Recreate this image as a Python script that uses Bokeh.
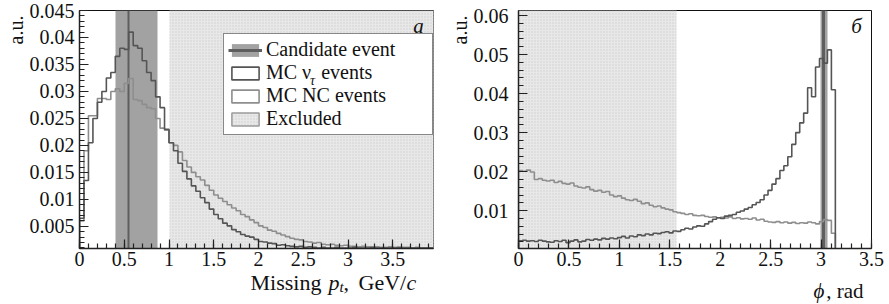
import numpy as np
from bokeh.plotting import figure
from bokeh.models import Range1d, FixedTicker, Legend, LegendItem, Label, Title
from bokeh.core.properties import value
from bokeh.layouts import row, column
from bokeh.embed import file_html
from bokeh.resources import INLINE

# ---------------- data: left panel (missing pt) ----------------
pt_bin_width = 0.05
pt_nutau = [0.0065, 0.0135, 0.0205, 0.0250, 0.0280, 0.0300, 0.0325, 0.0335, 0.0365, 0.0380,
            0.0378, 0.0410, 0.0385, 0.0380, 0.0357, 0.0335, 0.0320, 0.0290, 0.0270, 0.0230,
            0.0205, 0.0190, 0.0167, 0.0152, 0.0138, 0.0125, 0.0115, 0.0103, 0.0094, 0.0082,
            0.0072, 0.0064, 0.0056, 0.0051, 0.0044, 0.0040, 0.0035, 0.0032, 0.0030, 0.0026,
            0.0022, 0.0021, 0.0019, 0.0018, 0.0015, 0.0016, 0.0014, 0.0013, 0.0012, 0.0013,
            0.0011, 0.0012, 0.0011, 0.0010, 0.0011, 0.0010, 0.0010, 0.0011, 0.0010, 0.0010,
            0.0010, 0.0011, 0.0010, 0.0010, 0.0010, 0.0011, 0.0010, 0.0010, 0.0010, 0.0010,
            0.0010, 0.0011, 0.0010, 0.0010, 0.0010, 0.0010, 0.0010, 0.0010, 0.0010]
pt_nc = [0.0060, 0.0190, 0.0255, 0.0255, 0.0287, 0.0287, 0.0285, 0.0300, 0.0305, 0.0300,
         0.0315, 0.0324, 0.0285, 0.0283, 0.0276, 0.0270, 0.0268, 0.0250, 0.0232, 0.0228,
         0.0205, 0.0200, 0.0188, 0.0172, 0.0160, 0.0150, 0.0142, 0.0136, 0.0126, 0.0117,
         0.0108, 0.0102, 0.0096, 0.0090, 0.0084, 0.0079, 0.0072, 0.0068, 0.0062, 0.0057,
         0.0051, 0.0048, 0.0043, 0.0041, 0.0037, 0.0034, 0.0031, 0.0028, 0.0026, 0.0025,
         0.0022, 0.0021, 0.0019, 0.0020, 0.0017, 0.0016, 0.0017, 0.0015, 0.0014, 0.0015,
         0.0013, 0.0013, 0.0012, 0.0013, 0.0012, 0.0011, 0.0012, 0.0011, 0.0011, 0.0012,
         0.0011, 0.0010, 0.0011, 0.0011, 0.0010, 0.0011, 0.0010, 0.0010, 0.0010]
pt_candidate = 0.55
pt_candidate_band = [0.40, 0.87]
pt_excluded = [1.0, 4.0]

pt_xticks = [0, 0.5, 1, 1.5, 2, 2.5, 3, 3.5]
pt_xlabels = ["0", "0.5", "1", "1.5", "2", "2.5", "3", "3.5"]
pt_yticks = [0.005, 0.01, 0.015, 0.02, 0.025, 0.03, 0.035, 0.04, 0.045]
pt_ylabels = ["0.005", "0.01", "0.015", "0.02", "0.025", "0.03", "0.035", "0.04", "0.045"]

# ---------------- data: right panel (phi) ----------------
phi_max = np.pi
phi_nutau = [0.0023, 0.0024, 0.0022, 0.0023, 0.0021, 0.0024, 0.0022, 0.0020,
             0.0019, 0.0023, 0.0021, 0.0024, 0.0018, 0.0022, 0.0025, 0.0020,
             0.0022, 0.0026, 0.0024, 0.0027, 0.0025, 0.0029, 0.0027,
             0.0030, 0.0028, 0.0031, 0.0034, 0.0030, 0.0035, 0.0033, 0.0038,
             0.0036, 0.0040, 0.0038, 0.0042, 0.0041, 0.0044, 0.0046, 0.0043,
             0.0048, 0.0047, 0.0051, 0.0055, 0.0053, 0.0058, 0.0061,
             0.0060, 0.0066, 0.0072, 0.0078, 0.0082, 0.0080, 0.0086, 0.0088,
             0.0090, 0.0096, 0.0099, 0.0104, 0.0108, 0.0115, 0.0121, 0.0128,
             0.0140, 0.0152, 0.0168, 0.0182, 0.0203, 0.0215, 0.0238,
             0.0270, 0.0300, 0.0325, 0.0350, 0.0415, 0.0392, 0.0468, 0.0490, 0.0478, 0.0512, 0.0410]
phi_nc = [0.0203, 0.0201, 0.0204, 0.0199,
          0.0180, 0.0182, 0.0178, 0.0176,
          0.0178, 0.0172, 0.0175, 0.0170, 0.0168, 0.0171, 0.0163, 0.0160,
          0.0158, 0.0161, 0.0154, 0.0150, 0.0152, 0.0147, 0.0149,
          0.0140, 0.0136, 0.0138, 0.0132, 0.0128, 0.0126, 0.0129, 0.0124,
          0.0118, 0.0120, 0.0114, 0.0110, 0.0112, 0.0107, 0.0104, 0.0102,
          0.0097, 0.0095, 0.0093, 0.0090, 0.0092, 0.0088, 0.0087,
          0.0088, 0.0085, 0.0083, 0.0084, 0.0082, 0.0083, 0.0081, 0.0084,
          0.0080, 0.0082, 0.0079, 0.0080, 0.0078, 0.0081, 0.0076, 0.0078,
          0.0073, 0.0071, 0.0070, 0.0072, 0.0069, 0.0071, 0.0068,
          0.0070, 0.0067, 0.0069, 0.0068, 0.0071, 0.0069, 0.0066, 0.0072, 0.0077, 0.0075, 0.0042]
phi_candidate = 3.02
phi_candidate_band = [2.99, 3.06]
phi_excluded = [0.0, np.pi / 2]

phi_xticks = [0, 0.5, 1, 1.5, 2, 2.5, 3, 3.5]
phi_xlabels = ["0", "0.5", "1", "1.5", "2", "2.5", "3", "3.5"]
phi_yticks = [0.01, 0.02, 0.03, 0.04, 0.05, 0.06]
phi_ylabels = ["0.01", "0.02", "0.03", "0.04", "0.05", "0.06"]

# ---------------- styles ----------------
SERIF = "Liberation Serif"
C_NUTAU = "#555555"
C_NC = "#8e8e8e"
C_BAND = "#a2a2a2"
C_CAND = "#5e5e5e"
C_EXCL = "#e8e8e8"
C_HATCH = "#d0d0d0"
C_TEXT = "#111111"
NAN = np.array([np.nan])


def step_xy(edges, vals):
    xs = [edges[0]]
    ys = [0.0]
    for i, v in enumerate(vals):
        xs += [edges[i], edges[i + 1]]
        ys += [v, v]
    xs.append(edges[-1])
    ys.append(0.0)
    return xs, ys


def style_axes(p, xt, xl, xminor, yt, yl, yminor, ystand):
    p.xaxis.ticker = FixedTicker(ticks=xt, minor_ticks=xminor)
    p.yaxis.ticker = FixedTicker(ticks=yt, minor_ticks=yminor)
    p.xaxis.major_label_overrides = dict(zip(xt, xl))
    p.yaxis.major_label_overrides = dict(zip(yt, yl))
    for ax in (p.xaxis[0], p.yaxis[0]):
        ax.major_tick_in = 9
        ax.major_tick_out = 0
        ax.minor_tick_in = 5
        ax.minor_tick_out = 0
        ax.major_tick_line_color = "#222222"
        ax.minor_tick_line_color = "#222222"
        ax.major_tick_line_width = 1.2
        ax.minor_tick_line_width = 1.2
        ax.axis_line_color = "#222222"
        ax.axis_line_width = 1.5
        ax.major_label_text_font = SERIF
        ax.major_label_text_font_size = "20px"
        ax.major_label_text_color = C_TEXT
    p.xaxis.major_label_standoff = 3
    p.yaxis.major_label_standoff = ystand
    p.grid.visible = False
    p.outline_line_color = "#111111"
    p.outline_line_width = 1
    p.add_layout(Title(text="a.u.", align="right", text_font=SERIF, text_font_size="20px",
                       text_font_style="normal", text_color=C_TEXT, standoff=0, offset=5), "left")


def text_strip(width, pieces):
    q = figure(width=width, height=34, output_backend="svg", toolbar_location=None,
               x_range=Range1d(0, width), y_range=Range1d(0, 34),
               x_axis_type=None, y_axis_type=None, min_border=0)
    q.outline_line_color = None
    q.grid.visible = False
    for (x, y, txt, size, style, align) in pieces:
        q.text(x=[x], y=[y], text=[txt], text_font=value(SERIF), text_font_size=value(size),
               text_font_style=style, text_align=align, text_baseline="alphabetic",
               text_color=C_TEXT)
    return q


# ================= left panel =================
p1 = figure(width=446, height=270, output_backend="svg", toolbar_location=None,
            x_range=Range1d(0, 3.955), y_range=Range1d(0.0009, 0.045),
            min_border_left=79, min_border_right=13, min_border_top=10, min_border_bottom=22)

p1.vstrip(x0=[pt_excluded[0]], x1=[pt_excluded[1]], fill_color=C_EXCL, line_color=None,
          hatch_pattern="dot", hatch_color=C_HATCH, hatch_scale=3, hatch_weight=1)
p1.vstrip(x0=[pt_candidate_band[0]], x1=[pt_candidate_band[1]], fill_color=C_BAND, line_color=None)
p1.vspan(x=[pt_candidate], line_color=C_CAND, line_width=2)

pt_edges = [round(i * pt_bin_width, 4) for i in range(len(pt_nutau) + 1)]
xs, ys = step_xy(pt_edges, pt_nc)
h_nc = p1.patch(xs, ys, fill_alpha=0, line_color=C_NC, line_width=1.6)
xs, ys = step_xy(pt_edges, pt_nutau)
h_nutau = p1.patch(xs, ys, fill_alpha=0, line_color=C_NUTAU, line_width=1.6)

# legend proxies (NaN data: nothing drawn in the plot)
lg_band = p1.quad(left=NAN, right=NAN, top=NAN, bottom=NAN, fill_color=C_BAND, line_color=None)
lg_line = p1.line(x=NAN, y=NAN, line_color=C_CAND, line_width=3)
lg_exc = p1.quad(left=NAN, right=NAN, top=NAN, bottom=NAN, fill_color=C_EXCL, line_color="#9a9a9a",
                 line_width=1.5, hatch_pattern="dot", hatch_color=C_HATCH, hatch_scale=3)
lg_none = p1.line(x=NAN, y=NAN, line_alpha=0)

legend = Legend(items=[
    LegendItem(label="Candidate event", renderers=[lg_band, lg_line]),
    LegendItem(label="MC \u03bd\u00a0\u00a0events", renderers=[h_nutau]),
    LegendItem(label="MC NC events", renderers=[h_nc]),
    LegendItem(label="Excluded", renderers=[lg_exc]),
], location=(144, 113))
legend.label_text_font = SERIF
legend.label_text_font_size = "20px"
legend.label_text_color = C_TEXT
legend.glyph_width = 34
legend.glyph_height = 16
legend.label_standoff = 4
legend.label_width = 162
legend.padding = 4
legend.spacing = 0
legend.margin = 0
legend.border_line_color = "#111111"
legend.border_line_width = 1.2
legend.background_fill_color = "white"
legend.background_fill_alpha = 1.0
p1.add_layout(legend)

# subscript tau of "MC nu_tau events" (a second, frameless legend drawn on top)
sub_legend = Legend(items=[LegendItem(label="\u03c4", renderers=[lg_none])], location=(230, 159))
sub_legend.label_text_font = SERIF
sub_legend.label_text_font_size = "14px"
sub_legend.label_text_font_style = "italic"
sub_legend.label_text_color = C_TEXT
sub_legend.glyph_width = 1
sub_legend.glyph_height = 1
sub_legend.label_height = 12
sub_legend.label_standoff = 0
sub_legend.padding = 0
sub_legend.spacing = 0
sub_legend.margin = 0
sub_legend.border_line_color = None
sub_legend.background_fill_alpha = 0.0
p1.add_layout(sub_legend)

style_axes(p1, pt_xticks, pt_xlabels, [round(0.1 * i, 2) for i in range(40)],
           pt_yticks, pt_ylabels, [round(0.001 * i, 4) for i in range(46)], 5)

p1.add_layout(Label(x=339, y=223, x_units="screen", y_units="screen", text="\u0430",
                    text_font=SERIF, text_font_size="21px", text_font_style="italic",
                    text_align="center", text_baseline="middle", text_color=C_TEXT))

# ================= right panel =================
p2 = figure(width=443, height=270, output_backend="svg", toolbar_location=None,
            x_range=Range1d(0, 3.5), y_range=Range1d(0.0003, 0.0613),
            min_border_left=71, min_border_right=18, min_border_top=10, min_border_bottom=22)

p2.vstrip(x0=[phi_excluded[0]], x1=[phi_excluded[1]], fill_color=C_EXCL, line_color=None,
          hatch_pattern="dot", hatch_color=C_HATCH, hatch_scale=3, hatch_weight=1)
p2.vstrip(x0=[phi_candidate_band[0]], x1=[phi_candidate_band[1]], fill_color=C_BAND, line_color=None)
p2.vspan(x=[phi_candidate], line_color=C_CAND, line_width=3)

phi_edges = [phi_max * i / len(phi_nutau) for i in range(len(phi_nutau) + 1)]
xs, ys = step_xy(phi_edges, phi_nc)
p2.patch(xs, ys, fill_alpha=0, line_color=C_NC, line_width=1.6)
xs, ys = step_xy(phi_edges, phi_nutau)
p2.patch(xs, ys, fill_alpha=0, line_color=C_NUTAU, line_width=1.6)

style_axes(p2, phi_xticks, phi_xlabels, [round(0.1 * i, 2) for i in range(36)],
           phi_yticks, phi_ylabels, [round(0.002 * i, 4) for i in range(31)], 10)

p2.add_layout(Label(x=338, y=223, x_units="screen", y_units="screen", text="\u0431",
                    text_font=SERIF, text_font_size="21px", text_font_style="italic",
                    text_align="center", text_baseline="middle", text_color=C_TEXT))

# ================= axis titles (strips below the plots) =================
q1 = text_strip(446, [
    (250, 22, "Missing", "22px", "normal", "left"),
    (328, 22, "p", "22px", "italic", "left"),
    (339, 18, "t", "15px", "italic", "left"),
    (343, 22, ",", "22px", "normal", "left"),
    (358, 22, "GeV/", "22px", "normal", "left"),
    (406, 22, "c", "22px", "italic", "left"),
])
q2 = text_strip(443, [
    (813 - 446, 14, "\u03d5", "21px", "italic", "left"),
    (863 - 446, 14, ", rad", "21px", "normal", "right"),
])

layout = column(row(p1, p2), row(q1, q2), spacing=0)
open("out.html", "w").write(file_html(layout, INLINE))
